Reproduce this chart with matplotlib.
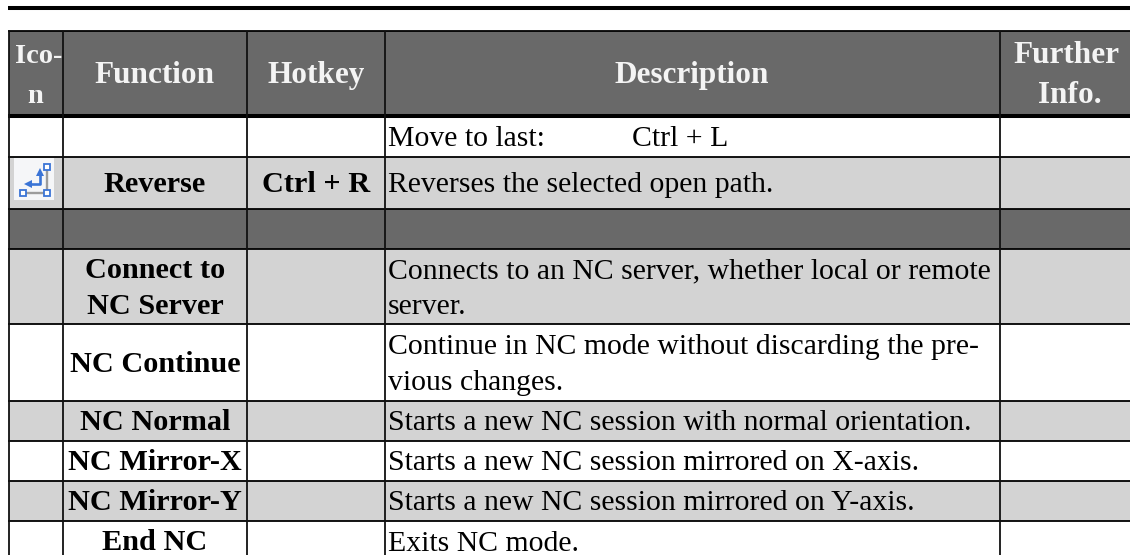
"""
Recreate the NC command reference table as a figure.
"""

import matplotlib

matplotlib.use("Agg")
import matplotlib.pyplot as plt
from matplotlib.patches import Rectangle

plt.rcParams["font.family"] = ["Liberation Serif", "DejaVu Serif"]

HEADER_GRAY = "#696969"
LIGHT_GRAY = "#d3d3d3"

headers = [["Ico-", "n"], ["Function"], ["Hotkey"], ["Description"], ["Further", "Info."]]
functions = [
    [],
    ["Reverse"],
    [],
    ["Connect to", "NC Server"],
    ["NC Continue"],
    ["NC Normal"],
    ["NC Mirror-X"],
    ["NC Mirror-Y"],
    ["End NC"],
]
hotkeys = ["", "Ctrl + R", "", "", "", "", "", "", ""]
descriptions = [
    ["Move to last:"],
    ["Reverses the selected open path."],
    [],
    ["Connects to an NC server, whether local or remote", "server."],
    ["Continue in NC mode without discarding the pre-", "vious changes."],
    ["Starts a new NC session with normal orientation."],
    ["Starts a new NC session mirrored on X-axis."],
    ["Starts a new NC session mirrored on Y-axis."],
    ["Exits NC mode."],
]
row_fills = ["white", LIGHT_GRAY, HEADER_GRAY, LIGHT_GRAY, "white", LIGHT_GRAY, "white", LIGHT_GRAY, "white"]

# layout in pixels
col_edges = [9, 62.5, 247.3, 385.3, 1000.3, 1130]
row_edges = [31, 116, 156.7, 208.7, 248.7, 324.3, 400.7, 440.7, 480.7, 520.7, 555]
desc_base = [146, 192, 0, 278, 354, 430, 470, 510, 551]
func_base = [146, 192, 0, 278, 372, 430, 470, 510, 550]
header_base = [63, 83, 83, 83, 63]
header_x = [[38.5, 35], [155], [316], [692], [1066, 1070]]
header_size = [20.5, 22.5, 22.5, 22.5, 22.5]
line_gap = 36
desc_size = 21.4
bold_size = 21.8


def draw_lines(ax, x, base, lines, **kw):
    for i, s in enumerate(lines):
        ax.text(x, base + i * line_gap, s, va="baseline", **kw)


def draw_icon(ax):
    # small path icon in the first body row
    ax.add_patch(Rectangle((14, 158), 40, 42, fc="#f5f6f8", ec="none", zorder=2))
    ax.plot([23, 47, 47], [192.7, 192.7, 167], color="#9c9c9c", lw=1.7, zorder=3)
    ax.plot([29, 40, 40], [184, 184, 173], color="#3a74d6", lw=1.9, zorder=3)
    ax.plot([28], [184], marker="<", ms=6, color="#3a74d6", mew=0, zorder=3)
    ax.plot([40], [172], marker="^", ms=6, color="#3a74d6", mew=0, zorder=3)
    for px, py in [(23, 192.7), (47, 192.7), (47, 167)]:
        ax.plot([px], [py], marker="s", ms=4.5, mfc="white", mec="#3a74d6", mew=1.3, zorder=4)


fig = plt.figure(figsize=(11.3, 5.55), dpi=100)
ax = fig.add_axes([0, 0, 1, 1])
ax.set_xlim(0, 1130)
ax.set_ylim(555, 0)
ax.axis("off")

# top rule
ax.plot([8, 1130], [8, 8], color="black", lw=2.9, solid_capstyle="butt")

# fills
ax.add_patch(Rectangle((col_edges[0], row_edges[0]), 1130 - col_edges[0], row_edges[1] - row_edges[0], fc=HEADER_GRAY, ec="none"))
for i, fill in enumerate(row_fills):
    ax.add_patch(Rectangle((col_edges[0], row_edges[i + 1]), 1130 - col_edges[0], row_edges[i + 2] - row_edges[i + 1], fc=fill, ec="none"))

# grid
for y in row_edges[:-1]:
    lw = 2.9 if y == row_edges[1] else 1.3
    ax.plot([col_edges[0] - 1, 1130], [y, y], color="black", lw=lw, solid_capstyle="butt", zorder=5)
for x in col_edges[:-1]:
    ax.plot([x, x], [row_edges[0], 555], color="#111111", lw=1.3, solid_capstyle="butt", zorder=5)

# header
for j, lines in enumerate(headers):
    for k, s in enumerate(lines):
        ax.text(header_x[j][k], header_base[j] + k * 40, s, ha="center", va="baseline", color="#f4f4f4", fontweight="bold", fontsize=header_size[j], zorder=6)

# body
for i in range(len(functions)):
    xc = (col_edges[1] + col_edges[2]) / 2
    draw_lines(ax, xc, func_base[i], functions[i], ha="center", color="black", fontweight="bold", fontsize=bold_size, zorder=6)
    if hotkeys[i]:
        ax.text((col_edges[2] + col_edges[3]) / 2, func_base[i], hotkeys[i], ha="center", va="baseline", fontweight="bold", fontsize=bold_size, zorder=6)
    draw_lines(ax, 388, desc_base[i], descriptions[i], ha="left", color="black", fontsize=desc_size, zorder=6)

ax.text(632, desc_base[0], "Ctrl + L", va="baseline", fontsize=desc_size, zorder=6)
draw_icon(ax)

fig.savefig("out.png", dpi=100)
